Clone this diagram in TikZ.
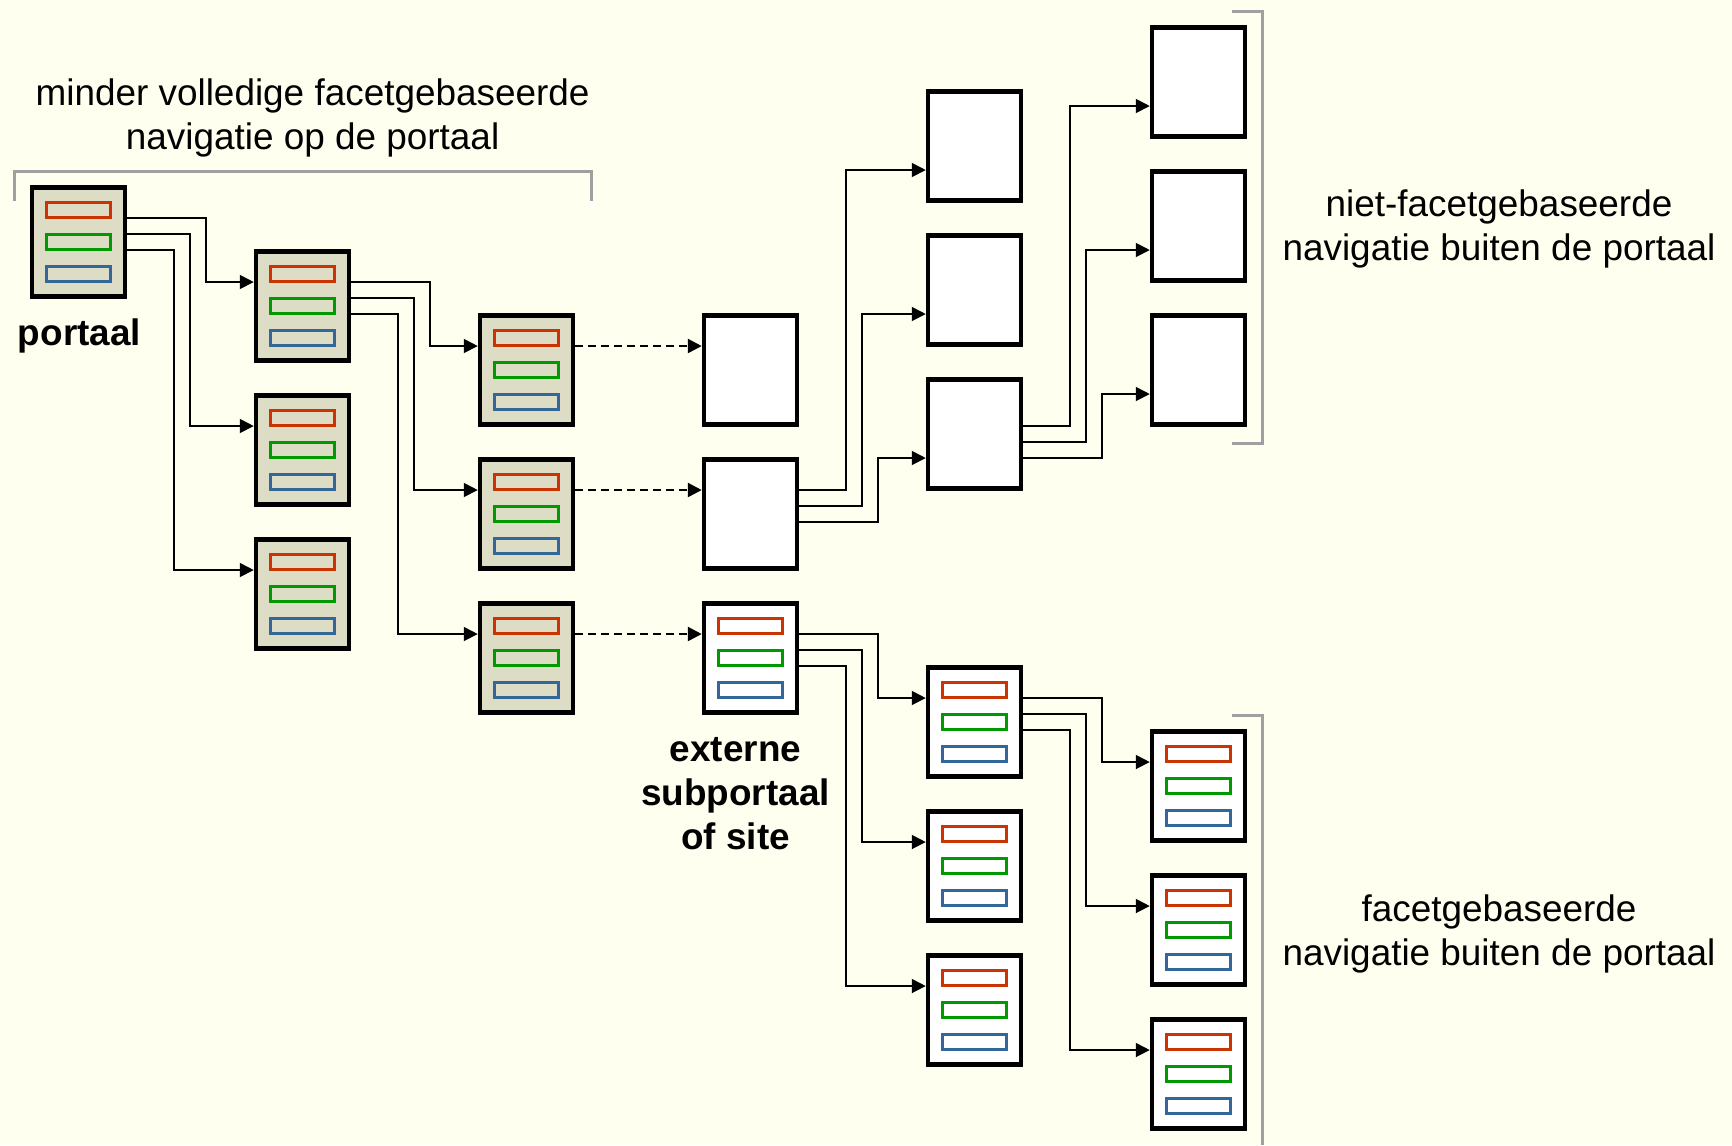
\documentclass[tikz,border=0pt]{standalone}
\usepackage{fontspec}
\setmainfont{Liberation Sans}
\usetikzlibrary{arrows.meta,positioning}

\definecolor{bg}{RGB}{255,255,240}
\definecolor{pagefill}{RGB}{221,221,197}
\definecolor{barred}{RGB}{204,51,0}
\definecolor{bargreen}{RGB}{0,153,0}
\definecolor{barblue}{RGB}{51,102,153}
\definecolor{bracegray}{RGB}{160,160,160}

\begin{document}
\begin{tikzpicture}[x=1mm,y=1mm,>={Triangle[length=1.4mm,width=1.4mm]},
                    node distance=14.4mm,on grid,
                    font=\fontsize{10.5}{12.5}\selectfont,
                    page/.style={draw,line width=0.45mm,fill=white,inner sep=0pt,
                                 minimum width=9.3mm,minimum height=10.9mm},
                    menu/.style={page,path picture={
                      \draw[barred,line width=0.35mm]
                        ([shift={(-3.2mm,2.45mm)}]path picture bounding box.center) rectangle ++(6.4mm,1.5mm);
                      \draw[bargreen,line width=0.35mm]
                        ([shift={(-3.2mm,-0.75mm)}]path picture bounding box.center) rectangle ++(6.4mm,1.5mm);
                      \draw[barblue,line width=0.35mm]
                        ([shift={(-3.2mm,-3.95mm)}]path picture bounding box.center) rectangle ++(6.4mm,1.5mm);}},
                    portal/.style={menu,fill=pagefill},
                    link/.style={->,line width=0.5pt},
                    jump/.style={->,line width=0.7pt,dash pattern=on 0.8mm off 0.5mm},
                    brace/.style={bracegray,line width=0.3mm}]

  \useasboundingbox[fill=bg] (0,0) rectangle (173.2,-114.5);

  % pages
  \node[portal] (p)  at (7.85,-24.2) {};
  \node[portal] (a1) [below right=6.4mm and 22.4mm of p] {};
  \node[portal] (a2) [below=of a1] {};
  \node[portal] (a3) [below=of a2] {};
  \node[portal] (b1) [below right=6.4mm and 22.4mm of a1] {};
  \node[portal] (b2) [below=of b1] {};
  \node[portal] (b3) [below=of b2] {};
  \node[page]   (c1) [right=22.4mm of b1] {};
  \node[page]   (c2) [right=22.4mm of b2] {};
  \node[menu]   (c3) [right=22.4mm of b3] {};
  \node[page]   (d3) [above right=8mm and 22.4mm of c2] {};
  \node[page]   (d2) [above=of d3] {};
  \node[page]   (d1) [above=of d2] {};
  \node[page]   (e3) [above right=6.4mm and 22.4mm of d3] {};
  \node[page]   (e2) [above=of e3] {};
  \node[page]   (e1) [above=of e2] {};
  \node[menu]   (f1) [below right=6.4mm and 22.4mm of c3] {};
  \node[menu]   (f2) [below=of f1] {};
  \node[menu]   (f3) [below=of f2] {};
  \node[menu]   (g1) [below right=6.4mm and 22.4mm of f1] {};
  \node[menu]   (g2) [below=of g1] {};
  \node[menu]   (g3) [below=of g2] {};

  % links
  \draw[link] ([yshift=2.4mm]p.east)   -- ++(7.9,0) |- ([yshift=2.4mm]a1.west);
  \draw[link] ([yshift=0.8mm]p.east)   -- ++(6.3,0) |- ([yshift=2.4mm]a2.west);
  \draw[link] ([yshift=-0.8mm]p.east)  -- ++(4.7,0) |- ([yshift=2.4mm]a3.west);
  \draw[link] ([yshift=2.4mm]a1.east)  -- ++(7.9,0) |- ([yshift=2.4mm]b1.west);
  \draw[link] ([yshift=0.8mm]a1.east)  -- ++(6.3,0) |- ([yshift=2.4mm]b2.west);
  \draw[link] ([yshift=-0.8mm]a1.east) -- ++(4.7,0) |- ([yshift=2.4mm]b3.west);
  \draw[jump] ([yshift=2.4mm]b1.east)  -- ([yshift=2.4mm]c1.west);
  \draw[jump] ([yshift=2.4mm]b2.east)  -- ([yshift=2.4mm]c2.west);
  \draw[jump] ([yshift=2.4mm]b3.east)  -- ([yshift=2.4mm]c3.west);
  \draw[link] ([yshift=2.4mm]c2.east)  -- ++(4.7,0) |- ([yshift=-2.4mm]d1.west);
  \draw[link] ([yshift=0.8mm]c2.east)  -- ++(6.3,0) |- ([yshift=-2.4mm]d2.west);
  \draw[link] ([yshift=-0.8mm]c2.east) -- ++(7.9,0) |- ([yshift=-2.4mm]d3.west);
  \draw[link] ([yshift=0.8mm]d3.east)  -- ++(4.7,0) |- ([yshift=-2.4mm]e1.west);
  \draw[link] ([yshift=-0.8mm]d3.east) -- ++(6.3,0) |- ([yshift=-2.4mm]e2.west);
  \draw[link] ([yshift=-2.4mm]d3.east) -- ++(7.9,0) |- ([yshift=-2.4mm]e3.west);
  \draw[link] ([yshift=2.4mm]c3.east)  -- ++(7.9,0) |- ([yshift=2.4mm]f1.west);
  \draw[link] ([yshift=0.8mm]c3.east)  -- ++(6.3,0) |- ([yshift=2.4mm]f2.west);
  \draw[link] ([yshift=-0.8mm]c3.east) -- ++(4.7,0) |- ([yshift=2.4mm]f3.west);
  \draw[link] ([yshift=2.4mm]f1.east)  -- ++(7.9,0) |- ([yshift=2.4mm]g1.west);
  \draw[link] ([yshift=0.8mm]f1.east)  -- ++(6.3,0) |- ([yshift=2.4mm]g2.west);
  \draw[link] ([yshift=-0.8mm]f1.east) -- ++(4.7,0) |- ([yshift=2.4mm]g3.west);

  % brackets
  \draw[brace] (1.44,-20.1) -- (1.44,-17.1) -- (59.1,-17.1) -- (59.1,-20.1);
  \draw[brace] (123.2,-1.1) -- (126.2,-1.1) -- (126.2,-44.3) -- (123.2,-44.3);
  \draw[brace] (123.2,-71.5) -- (126.2,-71.5) -- (126.2,-114.5);

  % labels
  \node[align=center] (inner) at (31.26,-11.8)
    {minder volledige facetgebaseerde\\navigatie op de portaal};
  \node[align=center] (outer) at (149.9,-22.9)
    {niet-facetgebaseerde\\navigatie buiten de portaal};
  \node[align=center] (facet) at (149.9,-93.4)
    {facetgebaseerde\\navigatie buiten de portaal};
  \node[font=\fontsize{10.5}{12.5}\selectfont\bfseries] (home) at (7.95,-33.55) {portaal};
  \node[align=center,font=\fontsize{10.5}{12.5}\selectfont\bfseries] (sub) at (73.56,-79.4)
    {externe\\subportaal\\of site};
\end{tikzpicture}
\end{document}
